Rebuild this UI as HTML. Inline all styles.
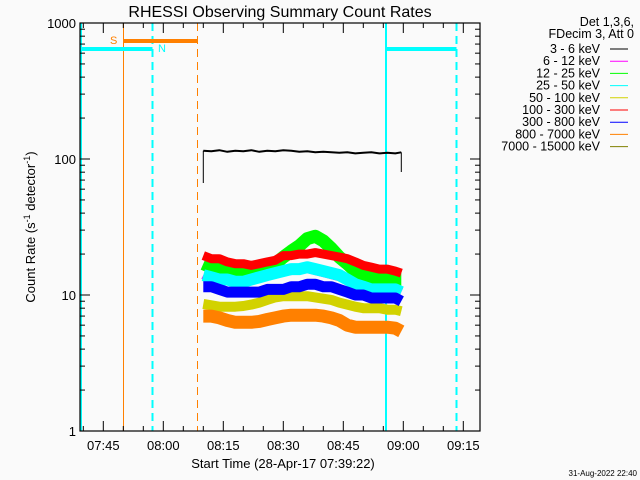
<!DOCTYPE html>
<html><head><meta charset="utf-8"><style>
body{margin:0;background:#fafafa;}
svg{display:block;font-family:"Liberation Sans",sans-serif;}
</style></head><body>
<svg id="c" width="640" height="480" viewBox="0 0 640 480">
<rect width="640" height="480" fill="#fafafa"/>
<text x="280" y="17" font-size="16" text-anchor="middle">RHESSI Observing Summary Count Rates</text>
<g id="plot"></g>
<g id="axes" stroke="#000" fill="none"></g>
<g id="labels" font-size="13"></g>
<text transform="translate(35,227) rotate(-90)" font-size="13" text-anchor="middle">Count Rate (s<tspan font-size="9" dy="-5">-1</tspan><tspan dy="5"> detector</tspan><tspan font-size="9" dy="-5">-1</tspan><tspan dy="5">)</tspan></text>
<text x="283" y="468" font-size="13" text-anchor="middle">Start Time (28-Apr-17 07:39:22)</text>
<text x="637" y="476" font-size="8" text-anchor="end">31-Aug-2022 22:40</text>
<g id="legend" font-size="12.5"></g>
</svg>
<script>
// minutes since 07:45 for each sample
const times = [25,27,29,31,33,35,37,39,41,43,45,47,49,51,53,55,57,59,61,63,65,67,69,71,73,74.5];
const black   = [115,114,116,113,115,114,116,113,115,114,116,115,113,114,112,113,112,111,112,110,111,112,110,111,110,112];
const magenta = [14,13,13,13,12.5,13,13,13.5,14,14.5,15,15,15.5,15.5,15,14.5,14,13.5,13,12,11.5,11.5,11,11,11,10.5];
const green   = [17,16,15.5,15.5,15,15,15,15.5,16,17,19,21,23,26,27,25,22,19,17,15,14,13.5,13,13,13,13];
const cyan    = [14,13.5,13,13,12.5,12.5,13,13.5,14,14.5,15,15.5,15.5,16,15.5,15,14.5,14,13,12,11.5,11,11,11,11,10.5];
const yellow  = [8.6,8.4,8.2,8.2,8.2,8.3,8.5,8.8,9.2,9.6,9.8,9.8,9.8,9.8,9.6,9.4,9.2,8.8,8.5,8.2,8,8,8,7.8,7.8,7.6];
const red     = [19.5,18.5,18.5,17.5,17,17,16.5,17,17.5,18,19.5,19.5,20,20,20.5,20,19.5,19,18.5,17.5,16.5,16,15.5,15.5,15,14.5];
const blue    = [11.5,11.5,11,10.5,10.5,10.5,10.5,10.5,11,11,11,11.5,11.5,12,12,11.5,11.5,11,10.5,10,10,9.5,9.5,9.5,9.5,9];
const orange  = [7.0,7.0,6.8,6.5,6.3,6.3,6.3,6.4,6.6,6.8,7.0,7.1,7.1,7.1,7.1,7.0,6.8,6.5,6.0,5.8,5.8,5.8,5.8,5.8,5.7,5.4];
const yTicks = [1,10,100,1000];
const xTickLabels = ["07:45","08:00","08:15","08:30","08:45","09:00","09:15"];
const legendLabels = ["3 - 6 keV","6 - 12 keV","12 - 25 keV","25 - 50 keV","50 - 100 keV","100 - 300 keV","300 - 800 keV","800 - 7000 keV","7000 - 15000 keV"];
const legendColors = ["#000","#ff00ff","#00ff00","#00ffff","#d2d200","#ff0000","#0000ff","#ff8000","#808000"];

const NS="http://www.w3.org/2000/svg";
const X0=80,X1=480,Y0=23,Y1=431;
const xs=t=>103.3+4*t;
const ys=v=>Y1-136*Math.log10(v);
function mk(tag,attrs,parent){const e=document.createElementNS(NS,tag);for(const k in attrs)e.setAttribute(k,attrs[k]);parent.appendChild(e);return e;}
const plot=document.getElementById('plot'),axes=document.getElementById('axes'),labels=document.getElementById('labels'),legend=document.getElementById('legend');

let e;
e=mk('line',{x1:81,y1:Y0,x2:81,y2:Y1,stroke:'#00ffff','stroke-width':2},plot);

e=mk('line',{x1:386,y1:Y0,x2:386,y2:Y1,stroke:'#00ffff','stroke-width':2},plot);

e=mk('line',{x1:152.5,y1:Y0,x2:152.5,y2:Y1,stroke:'#00ffff','stroke-width':2,'stroke-dasharray':'8,5'},plot);

e=mk('line',{x1:456.5,y1:Y0,x2:456.5,y2:Y1,stroke:'#00ffff','stroke-width':2,'stroke-dasharray':'8,5'},plot);

e=mk('line',{x1:123.5,y1:Y0,x2:123.5,y2:Y1,stroke:'#ff8000','stroke-width':1},plot);

e=mk('line',{x1:197.5,y1:Y0,x2:197.5,y2:Y1,stroke:'#ff8000','stroke-width':1,'stroke-dasharray':'8,5'},plot);

e=mk('line',{x1:80,y1:49,x2:152.5,y2:49,stroke:'#00ffff','stroke-width':4},plot);

e=mk('line',{x1:386,y1:49,x2:456.5,y2:49,stroke:'#00ffff','stroke-width':4},plot);

e=mk('line',{x1:123.5,y1:41,x2:197.5,y2:41,stroke:'#ff8000','stroke-width':4},plot);

e=mk('text',{x:110,y:44,fill:'#ff8000','font-size':11},plot);e.textContent='S';

e=mk('text',{x:158,y:52,fill:'#00ffff','font-size':11},plot);e.textContent='N';


const series=[[black,'#000',2,'series-3-6-kev'],[magenta,'#ff00ff',8,'series-6-12-kev'],[green,'#00ff00',13,'series-12-25-kev'],[cyan,'#00ffff',12,'series-25-50-kev'],[yellow,'#d2d200',10,'series-50-100-kev'],[red,'#ff0000',9,'series-100-300-kev'],[blue,'#0000ff',11,'series-300-800-kev'],[orange,'#ff8000',13,'series-800-7000-kev']];
series.forEach(([vals,col,w,name])=>{
  let d='';
  vals.forEach((v,i)=>{d+=(i?'L':'M')+xs(times[i]).toFixed(1)+','+ys(v).toFixed(1);});
  const p=mk('path',{d:d,stroke:col,'stroke-width':w,fill:'none','stroke-linejoin':'round'},plot);
  
  
});
e=mk('line',{x1:xs(times[0]),y1:ys(black[0]),x2:xs(times[0]),y2:183,stroke:'#000'},plot);

e=mk('line',{x1:xs(times[times.length-1]),y1:ys(black[black.length-1]),x2:xs(times[times.length-1]),y2:172,stroke:'#000'},plot);


e=mk('rect',{x:X0,y:Y0,width:X1-X0,height:Y1-Y0,'stroke-width':1.2},axes);

for(let dec=0;dec<3;dec++){for(let m=1;m<=9;m++){const v=Math.pow(10,dec)*m;const y=ys(v);const L=m==1?10:5;
  mk('line',{x1:X0,y1:y,x2:X0+L,y2:y},axes);mk('line',{x1:X1,y1:y,x2:X1-L,y2:y},axes);}}
yTicks.forEach(v=>{const y=ys(v);
  mk('line',{x1:X0,y1:y,x2:X0+10,y2:y},axes);mk('line',{x1:X1,y1:y,x2:X1-10,y2:y},axes);
  const t=mk('text',{x:X0-4,y:y+5,'text-anchor':'end'},labels);t.textContent=String(v);
  });
for(let t=-5;t<=95;t+=5){const x=xs(t);if(x<X0||x>X1)continue;const L=t%15==0?10:5;
  mk('line',{x1:x,y1:Y1,x2:x,y2:Y1-L},axes);mk('line',{x1:x,y1:Y0,x2:x,y2:Y0+L},axes);}
xTickLabels.forEach((s,i)=>{const t=mk('text',{x:xs(i*15),y:450,'text-anchor':'middle'},labels);t.textContent=s;
  });

e=mk('text',{x:634,y:26,'text-anchor':'end'},legend);e.textContent='Det 1,3,6,';

e=mk('text',{x:634,y:38,'text-anchor':'end'},legend);e.textContent='FDecim 3, Att 0';

legendLabels.forEach((s,i)=>{const y=49+12.2*i;
  const t=mk('text',{x:600,y:y+4,'text-anchor':'end'},legend);t.textContent=s;
  
  const l=mk('line',{x1:610,y1:y,x2:628,y2:y,stroke:legendColors[i]},legend);
  });
</script>
</body></html>
